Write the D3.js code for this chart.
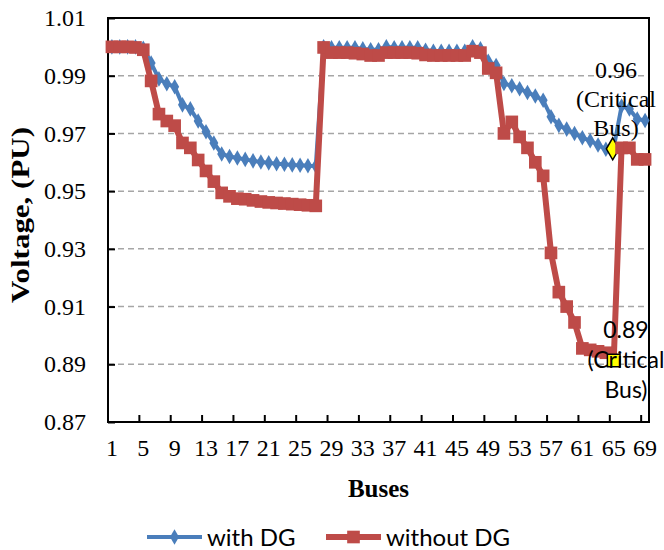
<!DOCTYPE html>
<html>
<head>
<meta charset="utf-8">
<script src="https://cdn.jsdelivr.net/npm/d3@7"></script>
<style>
  body { margin: 0; background: #fff; }
</style>
</head>
<body>
<div class="canvas"></div>
<script>
// bus numbers 1..69
const buses = d3.range(1, 70)

const withDG = [
  1.000, 1.000, 1.000, 1.000, 0.9995, 0.9944, 0.9889, 0.9872, 0.9862, 0.9799,
  0.9785, 0.9743, 0.9706, 0.9667, 0.9629, 0.9620, 0.9615, 0.9610, 0.9605, 0.9601,
  0.9598, 0.9595, 0.9593, 0.9591, 0.9590, 0.9588, 0.9587, 1.000, 0.9997, 0.9997,
  0.9997, 0.9997, 0.9993, 0.9990, 0.9990, 1.000, 0.9997, 0.9997, 0.9997, 0.9997,
  0.9988, 0.9985, 0.9985, 0.9985, 0.9985, 0.9985, 1.000, 0.9993, 0.9950, 0.9935,
  0.9873, 0.9865, 0.9855, 0.9842, 0.9830, 0.9815, 0.9758, 0.9728, 0.9715, 0.9700,
  0.9685, 0.9675, 0.9660, 0.9645, 0.9650, 0.9795, 0.9785, 0.9750, 0.9745
]

const withoutDG = [
  1.000, 1.000, 1.000, 0.9998, 0.9990, 0.9882, 0.9767, 0.9743, 0.9727, 0.9667,
  0.9650, 0.9608, 0.9570, 0.9533, 0.9494, 0.9482, 0.9474, 0.9472, 0.9468, 0.9464,
  0.9461, 0.9459, 0.9457, 0.9455, 0.9453, 0.9451, 0.9449, 0.9998, 0.9980, 0.9980,
  0.9980, 0.9978, 0.9975, 0.9970, 0.9970, 0.9980, 0.9980, 0.9980, 0.9980, 0.9978,
  0.9972, 0.9970, 0.9970, 0.9970, 0.9970, 0.9970, 0.9985, 0.9980, 0.9925, 0.9910,
  0.9700, 0.9740, 0.9688, 0.9650, 0.9600, 0.9553, 0.9286, 0.9150, 0.9100, 0.9045,
  0.8955, 0.8950, 0.8945, 0.8940, 0.8913, 0.9650, 0.9650, 0.9610, 0.9610
]

const yTicks = [0.87, 0.89, 0.91, 0.93, 0.95, 0.97, 0.99, 1.01]
const xLabels = d3.range(1, 70, 4)
const critical = [
  { series: 'with', bus: 65, lines: ['0.96', '(Critical', 'Bus)'] },
  { series: 'without', bus: 65, lines: ['0.89', '(Critical', 'Bus)'] }
]

const blue = '#4a7ebb'
const red = '#be4b48'
const serif = '"Liberation Serif", "Times New Roman", serif'
const sans = 'Lato, "Open Sans", sans-serif'

const svg = d3.select('.canvas')
  .append('svg')
    .attr('width', 664)
    .attr('height', 550)

const plot = { left: 108, right: 649, top: 18, bottom: 422 }

const x = d3.scaleBand()
  .domain(buses)
  .range([plot.left, plot.right])
const cx = b => x(b) + x.bandwidth() / 2

const y = d3.scaleLinear()
  .domain([0.87, 1.01])
  .range([plot.bottom, plot.top])

// grid lines
svg.append('g')
  .selectAll('line')
  .data(yTicks.filter(d => d > 0.87 && d < 1.01))
  .enter().append('line')
    .attr('x1', plot.left).attr('x2', plot.right)
    .attr('y1', d => y(d)).attr('y2', d => y(d))
    .attr('stroke', '#a6a6a6')
    .attr('stroke-width', 1.5)
    .attr('stroke-dasharray', '6,4')

// y axis ticks (inside) and labels
const yAxis = d3.axisLeft(y)
  .tickValues(yTicks)
  .tickSize(-7)
  .tickPadding(22)
  .tickFormat(d3.format('.2f'))
const yAxisGroup = svg.append('g')
  .attr('transform', `translate(${plot.left},0)`)
  .call(yAxis)
yAxisGroup.select('.domain').remove()
yAxisGroup.selectAll('line').attr('stroke', '#000').attr('stroke-width', 2)
yAxisGroup.selectAll('text')
  .attr('font-family', serif)
  .attr('font-size', 24)
  .attr('fill', '#000')

// x axis: ticks between categories every 4 buses, labels at 1,5,...,69
const xAxisGroup = svg.append('g')
  .attr('transform', `translate(0,${plot.bottom})`)
const tickPos = d3.range(0, 69, 4).map(i => x(buses[i])).concat([plot.right])
xAxisGroup.selectAll('line')
  .data(tickPos)
  .enter().append('line')
    .attr('x1', d => d).attr('x2', d => d)
    .attr('y1', 0).attr('y2', -7)
    .attr('stroke', '#000')
    .attr('stroke-width', 2)
xAxisGroup.selectAll('text')
  .data(xLabels)
  .enter().append('text')
    .attr('x', d => cx(d))
    .attr('y', 34)
    .attr('text-anchor', 'middle')
    .attr('font-family', serif)
    .attr('font-size', 24)
    .text(d => d)

// plot border
svg.append('rect')
  .attr('x', plot.left).attr('y', plot.top)
  .attr('width', plot.right - plot.left)
  .attr('height', plot.bottom - plot.top)
  .attr('fill', 'none')
  .attr('stroke', '#000')
  .attr('stroke-width', 2)

// axis titles
svg.append('text')
  .attr('transform', `translate(29,215) rotate(-90)`)
  .attr('text-anchor', 'middle')
  .attr('font-family', serif)
  .attr('font-weight', 'bold')
  .attr('font-size', 26)
  .attr('textLength', 176)
  .attr('lengthAdjust', 'spacingAndGlyphs')
  .text('Voltage, (PU)')

svg.append('text')
  .attr('x', (plot.left + plot.right) / 2)
  .attr('y', 497)
  .attr('text-anchor', 'middle')
  .attr('font-family', serif)
  .attr('font-weight', 'bold')
  .attr('font-size', 25)
  .text('Buses')

const line = d3.line()
  .x((d, i) => cx(buses[i]))
  .y(d => y(d))

const diamond = d3.symbol().type(d3.symbolDiamond).size(70)
const square = d3.symbol().type(d3.symbolSquare).size(160)

// with DG series
svg.append('path')
  .attr('d', line(withDG))
  .attr('fill', 'none')
  .attr('stroke', blue)
  .attr('stroke-width', 4)
  .attr('stroke-linejoin', 'round')
svg.append('g')
  .selectAll('path')
  .data(withDG)
  .enter().append('path')
    .attr('d', diamond)
    .attr('transform', (d, i) => `translate(${cx(buses[i])},${y(d)})`)
    .attr('fill', blue)

const c1 = critical[0]
svg.append('path')
  .attr('d', d3.symbol().type(d3.symbolDiamond).size(140)())
  .attr('transform', `translate(${cx(c1.bus) - 1},${y(withDG[c1.bus - 1]) + 1})`)
  .attr('fill', '#ffff00')
  .attr('stroke', '#000')
  .attr('stroke-width', 1.5)

// without DG series
svg.append('path')
  .attr('d', line(withoutDG))
  .attr('fill', 'none')
  .attr('stroke', red)
  .attr('stroke-width', 6)
  .attr('stroke-linejoin', 'round')
svg.append('g')
  .selectAll('path')
  .data(withoutDG)
  .enter().append('path')
    .attr('d', square)
    .attr('transform', (d, i) => `translate(${cx(buses[i])},${y(d)})`)
    .attr('fill', red)

const c2 = critical[1]
svg.append('path')
  .attr('d', square)
  .attr('transform', `translate(${cx(c2.bus)},${y(withoutDG[c2.bus - 1])})`)
  .attr('fill', '#ffff00')
  .attr('stroke', '#000')
  .attr('stroke-width', 1.5)

// critical bus labels
const lab1 = svg.append('text')
  .attr('text-anchor', 'middle')
  .attr('font-family', serif)
  .attr('font-size', 24)
lab1.selectAll('tspan')
  .data(c1.lines)
  .enter().append('tspan')
    .attr('x', 616)
    .attr('y', (d, i) => 78 + i * 29)
    .text(d => d)

const lab2 = svg.append('text')
  .attr('text-anchor', 'middle')
  .attr('font-family', sans)
  .attr('font-size', 23)
lab2.selectAll('tspan')
  .data(c2.lines)
  .enter().append('tspan')
    .attr('x', 626)
    .attr('y', (d, i) => 338 + i * 30)
    .text(d => d)

// legend
const legendItems = [
  { name: 'with DG', color: blue, x: 147, sym: diamond, w: 4 },
  { name: 'without DG', color: red, x: 326, sym: square, w: 6 }
]
const legend = svg.append('g')
  .selectAll('g')
  .data(legendItems)
  .enter().append('g')
    .attr('transform', d => `translate(${d.x},537)`)
legend.append('line')
  .attr('x1', 0).attr('x2', 55)
  .attr('stroke', d => d.color)
  .attr('stroke-width', d => d.w)
legend.append('path')
  .attr('d', d => d.sym())
  .attr('transform', 'translate(27.5,0)')
  .attr('fill', d => d.color)
legend.append('text')
  .attr('x', 60)
  .attr('y', 9)
  .attr('font-family', sans)
  .attr('font-size', 24)
  .text(d => d.name)
</script>
</body>
</html>
